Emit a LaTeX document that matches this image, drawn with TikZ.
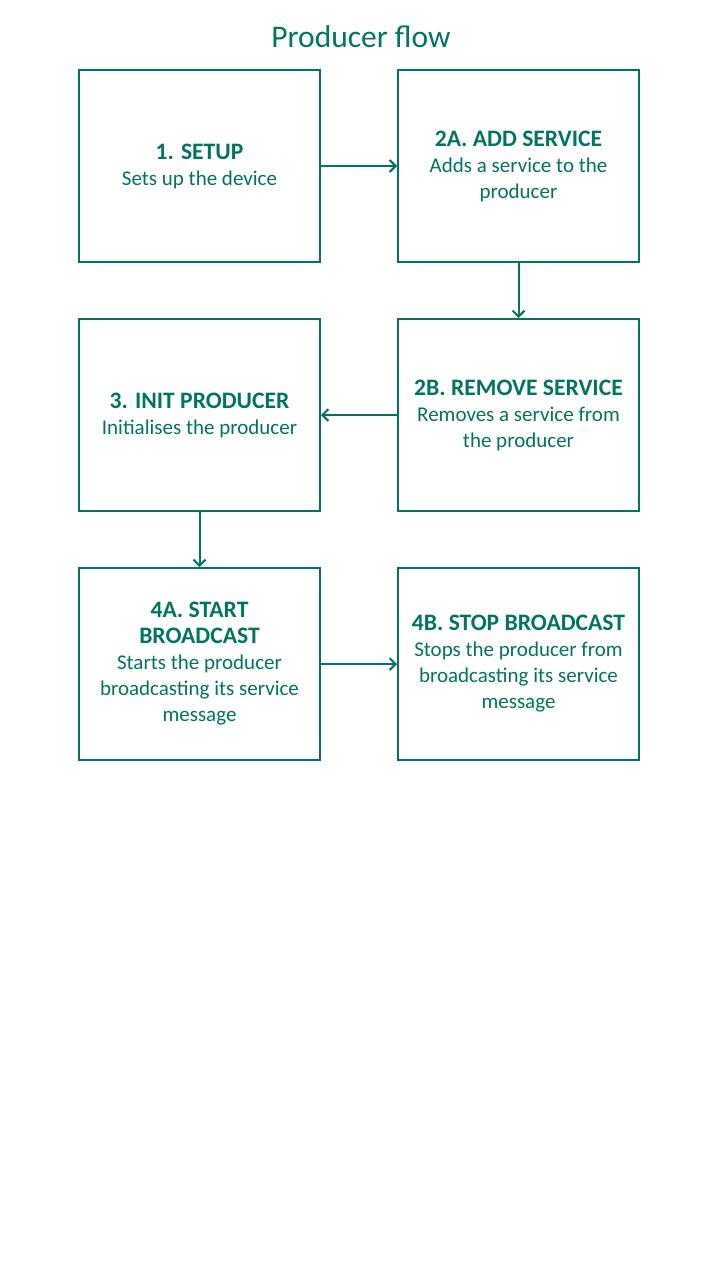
\documentclass[tikz,border=0pt]{standalone}
\usepackage{fontspec}
\setmainfont{Carlito}
\usetikzlibrary{positioning,arrows.meta}
\definecolor{flowgreen}{RGB}{0,118,96}

\begin{document}
\begin{tikzpicture}[x=1pt, y=-1pt, >={Straight Barb[length=6pt,width=12pt]},
  stepbox/.style={draw=flowgreen, line width=2pt, fill=white, text=flowgreen,
    minimum width=241pt, minimum height=192pt, inner sep=0pt, align=center,
    font=\fontsize{21}{26}\selectfont},
  flowarrow/.style={->, draw=flowgreen, line width=2pt}]
  \useasboundingbox (0,0) rectangle (720,1280);
  \node[text=flowgreen, font=\fontsize{31.5}{36}\selectfont] (title) at (361,37) {Producer flow};
  \node[stepbox] (setup) at (199.5,166) {{\bfseries\fontsize{23.6}{28}\selectfont 1. SETUP}\\Sets up the device};
  \node[stepbox, right=76pt of setup] (addsvc) {{\bfseries\fontsize{23.6}{28}\selectfont 2A. ADD SERVICE}\\Adds a service to the\\producer};
  \node[stepbox, below=55pt of addsvc] (rmsvc) {{\bfseries\fontsize{23.6}{28}\selectfont 2B. REMOVE SERVICE}\\Removes a service from\\the producer};
  \node[stepbox, below=55pt of setup] (init) {{\bfseries\fontsize{23.6}{28}\selectfont 3. INIT PRODUCER}\\Initialises the producer};
  \node[stepbox, below=55pt of init] (start) {{\bfseries\fontsize{23.6}{28}\selectfont 4A. START}\\{\bfseries\fontsize{23.6}{28}\selectfont BROADCAST}\\Starts the producer\\broadcasting its service\\message};
  \node[stepbox, right=76pt of start] (stop) {{\bfseries\fontsize{23.6}{28}\selectfont 4B. STOP BROADCAST}\\Stops the producer from\\broadcasting its service\\message};
  \draw[flowarrow] (setup) -- (addsvc);
  \draw[flowarrow] (addsvc) -- (rmsvc);
  \draw[flowarrow] (rmsvc) -- (init);
  \draw[flowarrow] (init) -- (start);
  \draw[flowarrow] (start) -- (stop);
\end{tikzpicture}
\end{document}
